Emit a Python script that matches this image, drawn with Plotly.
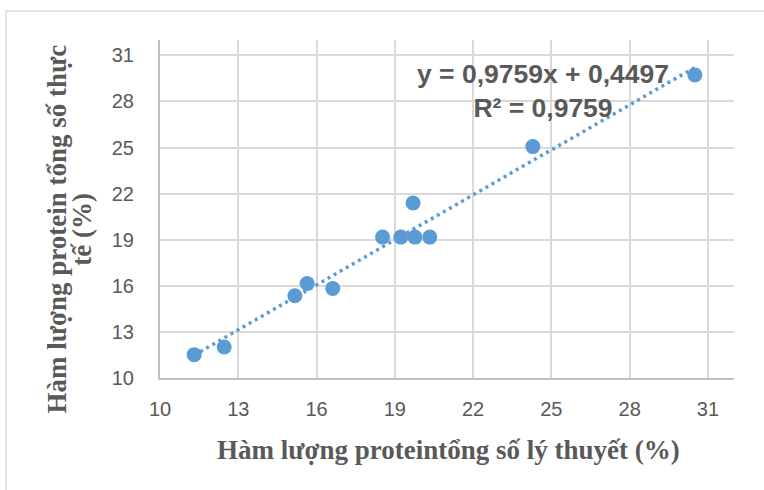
import plotly.graph_objects as go

# Theoretical vs. measured total protein content (%)
x_theory = [11.31, 12.46, 15.17, 15.64, 16.62, 18.53, 19.23, 19.70, 19.77, 20.34, 24.29, 30.50]
y_actual = [11.52, 12.02, 15.35, 16.15, 15.83, 19.17, 19.17, 21.39, 19.17, 19.17, 25.06, 29.73]

# Linear trendline coefficients as reported
slope = 0.9759
intercept = 0.4497
r_squared = 0.9759

tick_vals = [10, 13, 16, 19, 22, 25, 28, 31]

blue = "#5B9BD5"
text_grey = "#595959"
grid_grey = "#D9D9D9"
axis_grey = "#BFBFBF"

x_min, x_max = min(x_theory), max(x_theory)
trend_x = [x_min, x_max]
trend_y = [slope * v + intercept for v in trend_x]

fig = go.Figure()
fig.add_trace(go.Scatter(
    x=x_theory, y=y_actual, mode="markers",
    marker=dict(size=15, color=blue, line=dict(width=0)),
    showlegend=False, hoverinfo="x+y",
))
fig.add_trace(go.Scatter(
    x=trend_x, y=trend_y, mode="lines",
    line=dict(color=blue, width=3.5, dash="3px,4px"),
    showlegend=False, hoverinfo="skip",
))

tick_font = dict(family="Liberation Sans, Arial", size=20, color=text_grey)
title_font = dict(family="Liberation Serif, Times New Roman, serif", size=27, color=text_grey)

fig.update_xaxes(
    range=[10, 32], tickvals=tick_vals, ticktext=[str(v) for v in tick_vals],
    showgrid=True, gridcolor=grid_grey, gridwidth=1.5,
    showline=True, linecolor=axis_grey, linewidth=2,
    zeroline=False, ticks="", ticklabelstandoff=12,
    tickfont=tick_font,
)
fig.update_yaxes(
    range=[10, 32], tickvals=tick_vals, ticktext=[str(v) for v in tick_vals],
    showgrid=True, gridcolor=grid_grey, gridwidth=1.5,
    showline=True, linecolor=axis_grey, linewidth=2,
    zeroline=False, ticks="", ticklabelstandoff=20,
    tickfont=tick_font,
)

eq_text = (f"y = {str(slope).replace('.', ',')}x + {str(intercept).replace('.', ',')}"
           f"<br>R² = {str(r_squared).replace('.', ',')}")

annotations = [
    dict(text=eq_text, xref="paper", yref="paper", x=0.668, y=0.85,
         xanchor="center", yanchor="middle", showarrow=False, align="center",
         font=dict(family="Liberation Sans, Arial", size=26.5, color=text_grey, weight="bold")),
    dict(text="<b>Hàm lượng proteintổng số lý thuyết (%)</b>", xref="paper", yref="paper",
         x=0.503, y=-0.212, xanchor="center", yanchor="middle", showarrow=False,
         font=title_font),
    dict(text="<b>Hàm lượng protein tổng số thực</b>", xref="paper", yref="paper",
         x=-0.180, y=0.4416, xanchor="center", yanchor="middle", showarrow=False,
         textangle=-90, font=title_font),
    dict(text="<b>tế (%)</b>", xref="paper", yref="paper",
         x=-0.136, y=0.4416, xanchor="center", yanchor="middle", showarrow=False,
         textangle=-90, font=title_font),
]

# Chart-area frame
shapes = [dict(type="rect", xref="paper", yref="paper",
               x0=-0.2683, x1=1.07, y0=-0.40, y1=1.086,
               line=dict(color=grid_grey, width=1.5), layer="below")]

fig.update_layout(
    width=764, height=490,
    margin=dict(l=160, r=30, t=40, b=112),
    plot_bgcolor="white", paper_bgcolor="white",
    annotations=annotations, shapes=shapes,
)

fig.write_html("out.html")
